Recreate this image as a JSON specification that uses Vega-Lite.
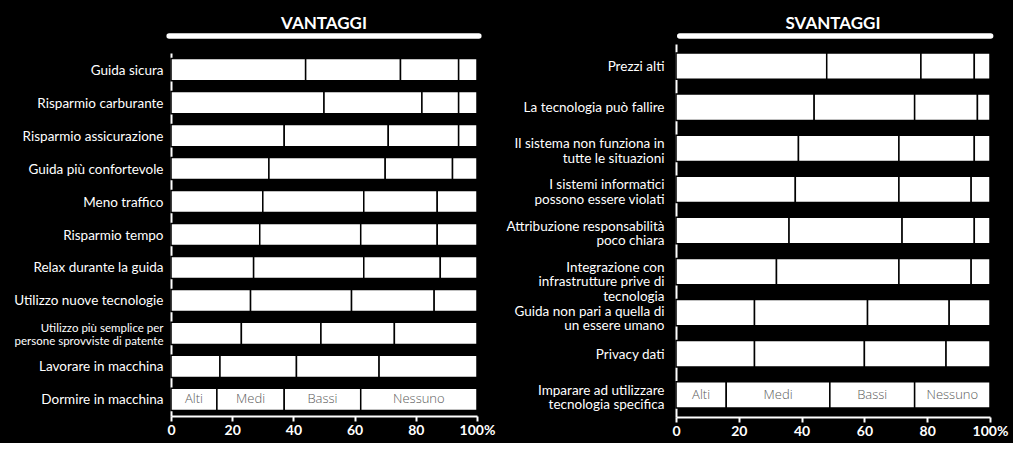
{
  "$schema": "https://vega.github.io/schema/vega-lite/v6.json",
  "background": "black",
  "padding": {"left": 13, "top": 15, "right": 5, "bottom": 5},
  "config": {"view": {"stroke": null}, "font": "Lato"},
  "datasets": {
    "bars": [
      {"panel": "V", "item": "Guida sicura", "level": "Alti", "ord": 1, "value": 44},
      {"panel": "V", "item": "Guida sicura", "level": "Medi", "ord": 2, "value": 31},
      {"panel": "V", "item": "Guida sicura", "level": "Bassi", "ord": 3, "value": 19},
      {"panel": "V", "item": "Guida sicura", "level": "Nessuno", "ord": 4, "value": 6},
      {"panel": "V", "item": "Risparmio carburante", "level": "Alti", "ord": 1, "value": 50},
      {"panel": "V", "item": "Risparmio carburante", "level": "Medi", "ord": 2, "value": 32},
      {"panel": "V", "item": "Risparmio carburante", "level": "Bassi", "ord": 3, "value": 12},
      {"panel": "V", "item": "Risparmio carburante", "level": "Nessuno", "ord": 4, "value": 6},
      {"panel": "V", "item": "Risparmio assicurazione", "level": "Alti", "ord": 1, "value": 37},
      {"panel": "V", "item": "Risparmio assicurazione", "level": "Medi", "ord": 2, "value": 34},
      {"panel": "V", "item": "Risparmio assicurazione", "level": "Bassi", "ord": 3, "value": 23},
      {"panel": "V", "item": "Risparmio assicurazione", "level": "Nessuno", "ord": 4, "value": 6},
      {"panel": "V", "item": "Guida più confortevole", "level": "Alti", "ord": 1, "value": 32},
      {"panel": "V", "item": "Guida più confortevole", "level": "Medi", "ord": 2, "value": 38},
      {"panel": "V", "item": "Guida più confortevole", "level": "Bassi", "ord": 3, "value": 22},
      {"panel": "V", "item": "Guida più confortevole", "level": "Nessuno", "ord": 4, "value": 8},
      {"panel": "V", "item": "Meno traffico", "level": "Alti", "ord": 1, "value": 30},
      {"panel": "V", "item": "Meno traffico", "level": "Medi", "ord": 2, "value": 33},
      {"panel": "V", "item": "Meno traffico", "level": "Bassi", "ord": 3, "value": 24},
      {"panel": "V", "item": "Meno traffico", "level": "Nessuno", "ord": 4, "value": 13},
      {"panel": "V", "item": "Risparmio tempo", "level": "Alti", "ord": 1, "value": 29},
      {"panel": "V", "item": "Risparmio tempo", "level": "Medi", "ord": 2, "value": 33},
      {"panel": "V", "item": "Risparmio tempo", "level": "Bassi", "ord": 3, "value": 25},
      {"panel": "V", "item": "Risparmio tempo", "level": "Nessuno", "ord": 4, "value": 13},
      {"panel": "V", "item": "Relax durante la guida", "level": "Alti", "ord": 1, "value": 27},
      {"panel": "V", "item": "Relax durante la guida", "level": "Medi", "ord": 2, "value": 36},
      {"panel": "V", "item": "Relax durante la guida", "level": "Bassi", "ord": 3, "value": 25},
      {"panel": "V", "item": "Relax durante la guida", "level": "Nessuno", "ord": 4, "value": 12},
      {"panel": "V", "item": "Utilizzo nuove tecnologie", "level": "Alti", "ord": 1, "value": 26},
      {"panel": "V", "item": "Utilizzo nuove tecnologie", "level": "Medi", "ord": 2, "value": 33},
      {"panel": "V", "item": "Utilizzo nuove tecnologie", "level": "Bassi", "ord": 3, "value": 27},
      {"panel": "V", "item": "Utilizzo nuove tecnologie", "level": "Nessuno", "ord": 4, "value": 14},
      {"panel": "V", "item": "Utilizzo più semplice per\npersone sprovviste di patente", "level": "Alti", "ord": 1, "value": 23},
      {"panel": "V", "item": "Utilizzo più semplice per\npersone sprovviste di patente", "level": "Medi", "ord": 2, "value": 26},
      {"panel": "V", "item": "Utilizzo più semplice per\npersone sprovviste di patente", "level": "Bassi", "ord": 3, "value": 24},
      {"panel": "V", "item": "Utilizzo più semplice per\npersone sprovviste di patente", "level": "Nessuno", "ord": 4, "value": 27},
      {"panel": "V", "item": "Lavorare in macchina", "level": "Alti", "ord": 1, "value": 16},
      {"panel": "V", "item": "Lavorare in macchina", "level": "Medi", "ord": 2, "value": 25},
      {"panel": "V", "item": "Lavorare in macchina", "level": "Bassi", "ord": 3, "value": 27},
      {"panel": "V", "item": "Lavorare in macchina", "level": "Nessuno", "ord": 4, "value": 32},
      {"panel": "V", "item": "Dormire in macchina", "level": "Alti", "ord": 1, "value": 15},
      {"panel": "V", "item": "Dormire in macchina", "level": "Medi", "ord": 2, "value": 22},
      {"panel": "V", "item": "Dormire in macchina", "level": "Bassi", "ord": 3, "value": 25},
      {"panel": "V", "item": "Dormire in macchina", "level": "Nessuno", "ord": 4, "value": 38},
      {"panel": "S", "item": "Prezzi alti", "level": "Alti", "ord": 1, "value": 48},
      {"panel": "S", "item": "Prezzi alti", "level": "Medi", "ord": 2, "value": 30},
      {"panel": "S", "item": "Prezzi alti", "level": "Bassi", "ord": 3, "value": 17},
      {"panel": "S", "item": "Prezzi alti", "level": "Nessuno", "ord": 4, "value": 5},
      {"panel": "S", "item": "La tecnologia può fallire", "level": "Alti", "ord": 1, "value": 44},
      {"panel": "S", "item": "La tecnologia può fallire", "level": "Medi", "ord": 2, "value": 32},
      {"panel": "S", "item": "La tecnologia può fallire", "level": "Bassi", "ord": 3, "value": 20},
      {"panel": "S", "item": "La tecnologia può fallire", "level": "Nessuno", "ord": 4, "value": 4},
      {"panel": "S", "item": "Il sistema non funziona in\ntutte le situazioni", "level": "Alti", "ord": 1, "value": 39},
      {"panel": "S", "item": "Il sistema non funziona in\ntutte le situazioni", "level": "Medi", "ord": 2, "value": 32},
      {"panel": "S", "item": "Il sistema non funziona in\ntutte le situazioni", "level": "Bassi", "ord": 3, "value": 24},
      {"panel": "S", "item": "Il sistema non funziona in\ntutte le situazioni", "level": "Nessuno", "ord": 4, "value": 5},
      {"panel": "S", "item": "I sistemi informatici\npossono essere violati", "level": "Alti", "ord": 1, "value": 38},
      {"panel": "S", "item": "I sistemi informatici\npossono essere violati", "level": "Medi", "ord": 2, "value": 33},
      {"panel": "S", "item": "I sistemi informatici\npossono essere violati", "level": "Bassi", "ord": 3, "value": 23},
      {"panel": "S", "item": "I sistemi informatici\npossono essere violati", "level": "Nessuno", "ord": 4, "value": 6},
      {"panel": "S", "item": "Attribuzione responsabilità\npoco chiara", "level": "Alti", "ord": 1, "value": 36},
      {"panel": "S", "item": "Attribuzione responsabilità\npoco chiara", "level": "Medi", "ord": 2, "value": 36},
      {"panel": "S", "item": "Attribuzione responsabilità\npoco chiara", "level": "Bassi", "ord": 3, "value": 23},
      {"panel": "S", "item": "Attribuzione responsabilità\npoco chiara", "level": "Nessuno", "ord": 4, "value": 5},
      {"panel": "S", "item": "Integrazione con\ninfrastrutture prive di\ntecnologia", "level": "Alti", "ord": 1, "value": 32},
      {"panel": "S", "item": "Integrazione con\ninfrastrutture prive di\ntecnologia", "level": "Medi", "ord": 2, "value": 39},
      {"panel": "S", "item": "Integrazione con\ninfrastrutture prive di\ntecnologia", "level": "Bassi", "ord": 3, "value": 23},
      {"panel": "S", "item": "Integrazione con\ninfrastrutture prive di\ntecnologia", "level": "Nessuno", "ord": 4, "value": 6},
      {"panel": "S", "item": "Guida non pari a quella di\nun essere umano", "level": "Alti", "ord": 1, "value": 25},
      {"panel": "S", "item": "Guida non pari a quella di\nun essere umano", "level": "Medi", "ord": 2, "value": 36},
      {"panel": "S", "item": "Guida non pari a quella di\nun essere umano", "level": "Bassi", "ord": 3, "value": 26},
      {"panel": "S", "item": "Guida non pari a quella di\nun essere umano", "level": "Nessuno", "ord": 4, "value": 13},
      {"panel": "S", "item": "Privacy dati", "level": "Alti", "ord": 1, "value": 25},
      {"panel": "S", "item": "Privacy dati", "level": "Medi", "ord": 2, "value": 35},
      {"panel": "S", "item": "Privacy dati", "level": "Bassi", "ord": 3, "value": 26},
      {"panel": "S", "item": "Privacy dati", "level": "Nessuno", "ord": 4, "value": 14},
      {"panel": "S", "item": "Imparare ad utilizzare\ntecnologia specifica", "level": "Alti", "ord": 1, "value": 16},
      {"panel": "S", "item": "Imparare ad utilizzare\ntecnologia specifica", "level": "Medi", "ord": 2, "value": 33},
      {"panel": "S", "item": "Imparare ad utilizzare\ntecnologia specifica", "level": "Bassi", "ord": 3, "value": 27},
      {"panel": "S", "item": "Imparare ad utilizzare\ntecnologia specifica", "level": "Nessuno", "ord": 4, "value": 24}
    ]
  },
  "spacing": 10,
  "hconcat": [
    {
      "spacing": 9,
      "vconcat": [
        {
          "width": 306,
          "height": 16,
          "data": {"values": [{"title": "VANTAGGI"}]},
          "layer": [
            {
              "mark": {"type": "rule", "color": "white", "strokeWidth": 5.5, "strokeCap": "round"},
              "encoding": {
                "x": {"datum": -0.6, "type": "quantitative", "scale": {"domain": [0, 100]}, "axis": null},
                "x2": {"datum": 100.6}
              }
            },
            {
              "mark": {"type": "text", "color": "white", "fontSize": 17, "fontWeight": "bold", "font": "Lato", "dy": -12},
              "encoding": {
                "x": {"datum": 50, "type": "quantitative"},
                "text": {"field": "title"}
              }
            }
          ]
        },
        {
          "width": 306,
          "height": 363,
          "data": {"name": "bars"},
          "transform": [
            {"filter": "datum.panel == 'V'"},
            {"stack": "value", "groupby": ["item"], "sort": [{"field": "ord", "order": "ascending"}], "as": ["v0", "v1"]}
          ],
          "encoding": {
            "y": {
              "field": "item",
              "type": "nominal",
              "sort": ["Guida sicura", "Risparmio carburante", "Risparmio assicurazione", "Guida più confortevole", "Meno traffico", "Risparmio tempo", "Relax durante la guida", "Utilizzo nuove tecnologie", "Utilizzo più semplice per\npersone sprovviste di patente", "Lavorare in macchina", "Dormire in macchina"],
              "scale": {"paddingInner": 0.33, "paddingOuter": 0.17},
              "axis": {
                "title": null,
                "domain": true,
                "domainColor": "white",
                "domainWidth": 2,
                "ticks": false,
                "labelColor": "white",
                "labelFont": "Lato",
                "labelFontSize": {"condition": {"test": "indexof(datum.value, 'persone') >= 0", "value": 11.5}, "value": 13.5},
                "labelOffset": {"condition": {"test": "indexof(datum.value, 'persone') >= 0", "value": -4}, "value": 1},
                "labelLineHeight": 13,
                "labelPadding": 8,
                "labelLimit": 400,
                "labelExpr": "split(datum.label, '\\n')"
              }
            }
          },
          "layer": [
            {
              "mark": {"type": "bar", "fill": "white", "stroke": "black", "strokeWidth": 1.5},
              "encoding": {
                "x": {
                  "field": "v0",
                  "type": "quantitative",
                  "scale": {"domain": [0, 100]},
                  "axis": {
                    "title": null,
                    "values": [0, 20, 40, 60, 80, 100],
                    "grid": false,
                    "domainColor": "white",
                    "domainWidth": 2,
                    "tickColor": "white",
                    "tickWidth": 2,
                    "tickSize": 5,
                    "labelColor": "white",
                    "labelFont": "Lato",
                    "labelFontWeight": "bold",
                    "labelFontSize": 14,
                    "labelPadding": 2,
                    "labelFlush": false,
                    "labelExpr": "datum.value == 100 ? '100%' : datum.label"
                  }
                },
                "x2": {"field": "v1"}
              }
            },
            {
              "transform": [
                {"filter": "datum.item == 'Dormire in macchina'"},
                {"calculate": "(datum.v0 + datum.v1) / 2", "as": "mid"}
              ],
              "mark": {"type": "text", "color": "#5a5a5a", "fontSize": 13, "font": "Open Sans", "fontWeight": 300},
              "encoding": {
                "x": {"field": "mid", "type": "quantitative"},
                "text": {"field": "level"}
              }
            }
          ]
        }
      ]
    },
    {
      "spacing": 0,
      "vconcat": [
        {
          "width": 314,
          "height": 16,
          "data": {"values": [{"title": "SVANTAGGI"}]},
          "layer": [
            {
              "mark": {"type": "rule", "color": "white", "strokeWidth": 5.5, "strokeCap": "round"},
              "encoding": {
                "x": {"datum": 1.2, "type": "quantitative", "scale": {"domain": [0, 100]}, "axis": null},
                "x2": {"datum": 100.2}
              }
            },
            {
              "mark": {"type": "text", "color": "white", "fontSize": 17, "fontWeight": "bold", "font": "Lato", "dy": -12},
              "encoding": {
                "x": {"datum": 50, "type": "quantitative"},
                "text": {"field": "title"}
              }
            }
          ]
        },
        {
          "width": 314,
          "height": 373,
          "data": {"name": "bars"},
          "transform": [
            {"filter": "datum.panel == 'S'"},
            {"stack": "value", "groupby": ["item"], "sort": [{"field": "ord", "order": "ascending"}], "as": ["v0", "v1"]}
          ],
          "encoding": {
            "y": {
              "field": "item",
              "type": "nominal",
              "sort": ["Prezzi alti", "La tecnologia può fallire", "Il sistema non funziona in\ntutte le situazioni", "I sistemi informatici\npossono essere violati", "Attribuzione responsabilità\npoco chiara", "Integrazione con\ninfrastrutture prive di\ntecnologia", "Guida non pari a quella di\nun essere umano", "Privacy dati", "Imparare ad utilizzare\ntecnologia specifica"],
              "scale": {"paddingInner": 0.36, "paddingOuter": 0.22},
              "axis": {
                "title": null,
                "domain": true,
                "domainColor": "white",
                "domainWidth": 2,
                "ticks": false,
                "labelColor": "white",
                "labelFont": "Lato",
                "labelFontSize": 13.5,
                "labelOffset": {"condition": [
                  {"test": "indexof(datum.value, 'Integrazione') >= 0", "value": -4},
                  {"test": "indexof(datum.value, 'Guida non') >= 0", "value": -1},
                  {"test": "indexof(datum.value, '\\n') >= 0", "value": -4}
                ], "value": 1},
                "labelLineHeight": 14.5,
                "labelPadding": 12,
                "labelLimit": 400,
                "labelExpr": "split(datum.label, '\\n')"
              }
            }
          },
          "layer": [
            {
              "mark": {"type": "bar", "fill": "white", "stroke": "black", "strokeWidth": 1.5},
              "encoding": {
                "x": {
                  "field": "v0",
                  "type": "quantitative",
                  "scale": {"domain": [0, 100]},
                  "axis": {
                    "title": null,
                    "values": [0, 20, 40, 60, 80, 100],
                    "grid": false,
                    "domainColor": "white",
                    "domainWidth": 2,
                    "tickColor": "white",
                    "tickWidth": 2,
                    "tickSize": 5,
                    "labelColor": "white",
                    "labelFont": "Lato",
                    "labelFontWeight": "bold",
                    "labelFontSize": 14,
                    "labelPadding": 2,
                    "labelFlush": false,
                    "labelExpr": "datum.value == 100 ? '100%' : datum.label"
                  }
                },
                "x2": {"field": "v1"}
              }
            },
            {
              "transform": [
                {"filter": "indexof(datum.item, 'Imparare') >= 0"},
                {"calculate": "(datum.v0 + datum.v1) / 2", "as": "mid"}
              ],
              "mark": {"type": "text", "color": "#5a5a5a", "fontSize": 13, "font": "Open Sans", "fontWeight": 300},
              "encoding": {
                "x": {"field": "mid", "type": "quantitative"},
                "text": {"field": "level"}
              }
            }
          ]
        }
      ]
    }
  ]
}
